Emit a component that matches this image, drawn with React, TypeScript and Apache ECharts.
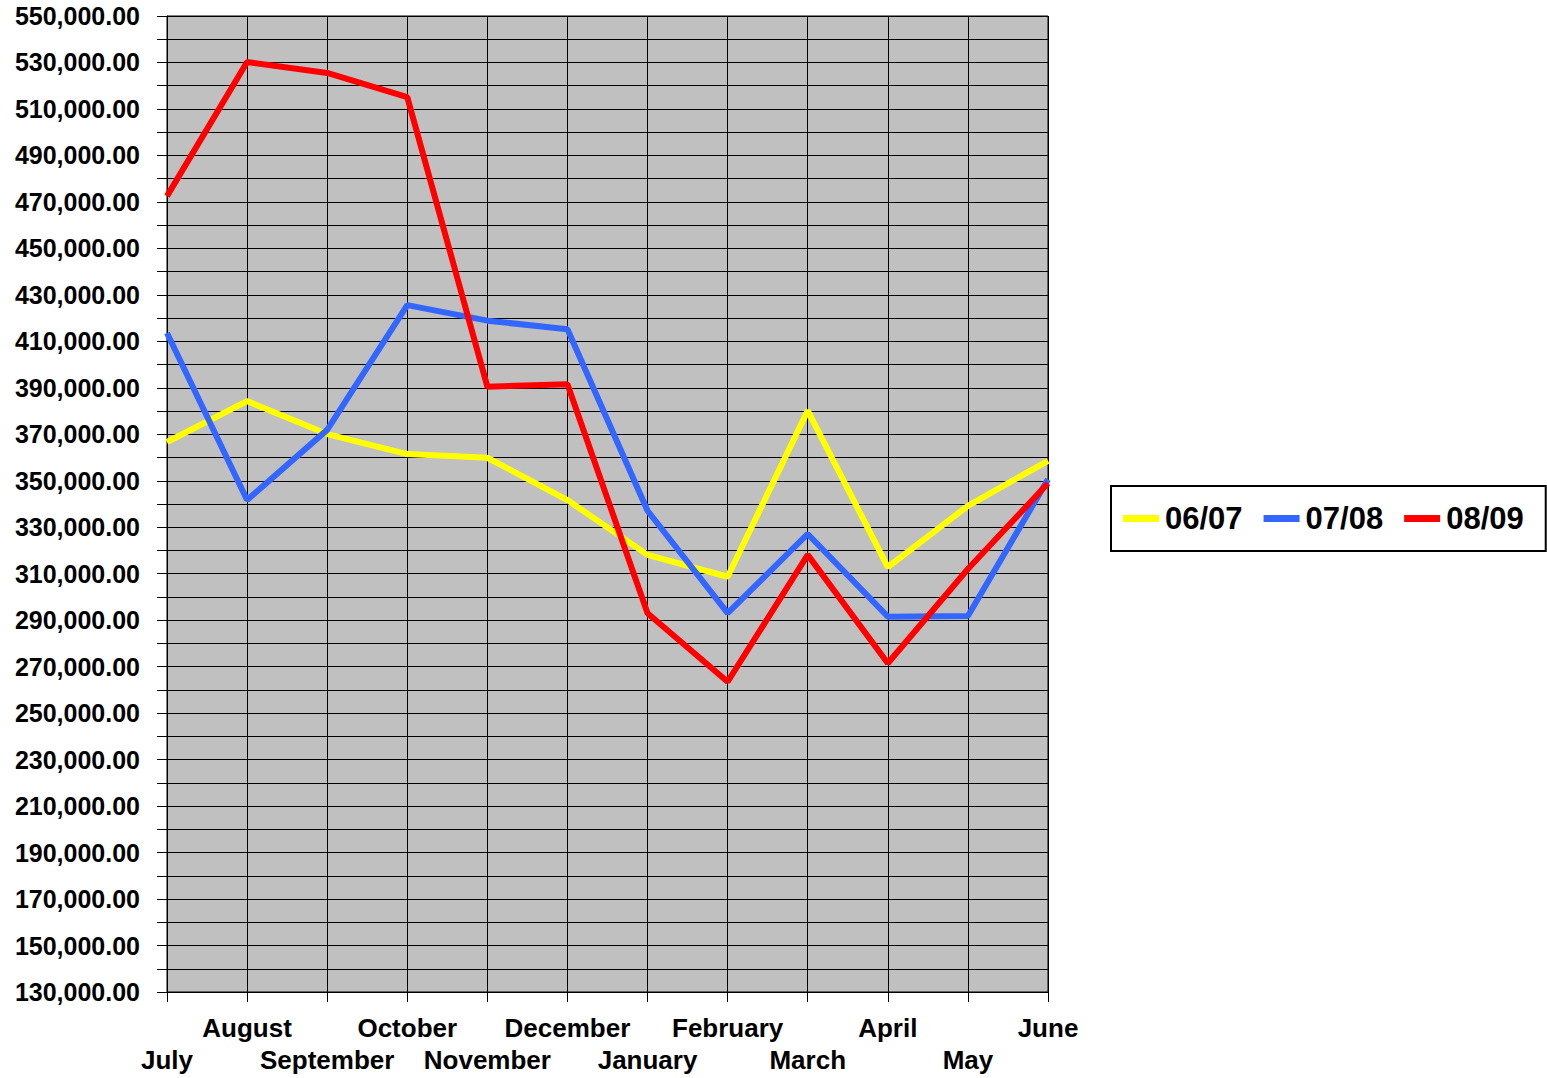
import React, { useEffect, useRef } from "react";
import * as echarts from "echarts";

const months = ["July", "August", "September", "October", "November", "December", "January", "February", "March", "April", "May", "June"];
const seriesNames = ["06/07", "07/08", "08/09"];
const values0607 = [366700, 384300, 370100, 361500, 359900, 341700, 318100, 308700, 380200, 312800, 339200, 358600];
const values0708 = [413600, 341700, 371900, 425600, 418900, 415200, 337100, 293000, 327100, 291500, 291800, 350600];
const values0809 = [472500, 530200, 525500, 515100, 390500, 391500, 293000, 263500, 318100, 271500, 312000, 348900];
const colors = ["#FFFF00", "#3366FF", "#FF0000"];
const yMin = 130000;
const yMax = 550000;
const yInterval = 20000;

const FONT = "'Liberation Sans', Arial, sans-serif";

export default function App() {
  const ref = useRef<HTMLDivElement>(null);
  useEffect(() => {
    if (!ref.current) return;
    const chart = echarts.init(ref.current, undefined, { renderer: "svg" });
    const data = [values0607, values0708, values0809];
    chart.setOption({
      animation: false,
      backgroundColor: "#ffffff",
      grid: {
        left: 167,
        right: 499,
        top: 16,
        bottom: 86,
        show: true,
        backgroundColor: "#C0C0C0",
        borderColor: "#000",
        borderWidth: 1,
      },
      legend: {
        left: 1111,
        top: 486,
        orient: "horizontal",
        padding: [17, 22, 17, 12],
        itemGap: 21,
        itemWidth: 36,
        itemHeight: 7,
        borderColor: "#000",
        borderWidth: 2,
        backgroundColor: "#fff",
        textStyle: { fontFamily: FONT, fontWeight: "bold", fontSize: 31, color: "#000", padding: [0, 0, 0, 1] },
        data: seriesNames.map((n, i) => ({ name: n, icon: "rect", itemStyle: { color: colors[i] } })),
      },
      xAxis: {
        type: "category",
        data: months,
        boundaryGap: false,
        axisLine: { lineStyle: { color: "#000", width: 1 } },
        axisTick: { show: true, length: 10, interval: 0, lineStyle: { color: "#000" } },
        splitLine: { show: true, interval: 0, lineStyle: { color: "#000", width: 1 } },
        axisLabel: {
          interval: 0,
          margin: 20,
          fontFamily: FONT,
          fontWeight: "bold",
          fontSize: 26,
          color: "#000",
          lineHeight: 32,
          formatter: (v: string, i: number) => (i % 2 === 0 ? "\n" + v : v),
        },
      },
      yAxis: {
        type: "value",
        min: yMin,
        max: yMax,
        interval: yInterval,
        axisLine: { show: true, lineStyle: { color: "#000", width: 1 } },
        axisTick: { show: true, length: 10, lineStyle: { color: "#000" } },
        minorTick: { show: true, splitNumber: 2, length: 10, lineStyle: { color: "#000" } },
        splitLine: { show: true, lineStyle: { color: "#000", width: 1 } },
        minorSplitLine: { show: true, lineStyle: { color: "#000", width: 1 } },
        axisLabel: {
          margin: 27,
          fontFamily: FONT,
          fontWeight: "bold",
          fontSize: 25,
          color: "#000",
          formatter: (v: number) => v.toLocaleString("en-US", { minimumFractionDigits: 2, maximumFractionDigits: 2 }),
        },
      },
      series: seriesNames.map((n, i) => ({
        name: n,
        type: "line",
        data: data[i],
        color: colors[i],
        showSymbol: false,
        symbol: "none",
        lineStyle: { color: colors[i], width: 6 },
        itemStyle: { color: colors[i] },
      })),
    });
    return () => chart.dispose();
  }, []);
  return <div ref={ref} style={{ position: "fixed", left: 0, top: 0, width: 1547, height: 1078 }} />;
}
